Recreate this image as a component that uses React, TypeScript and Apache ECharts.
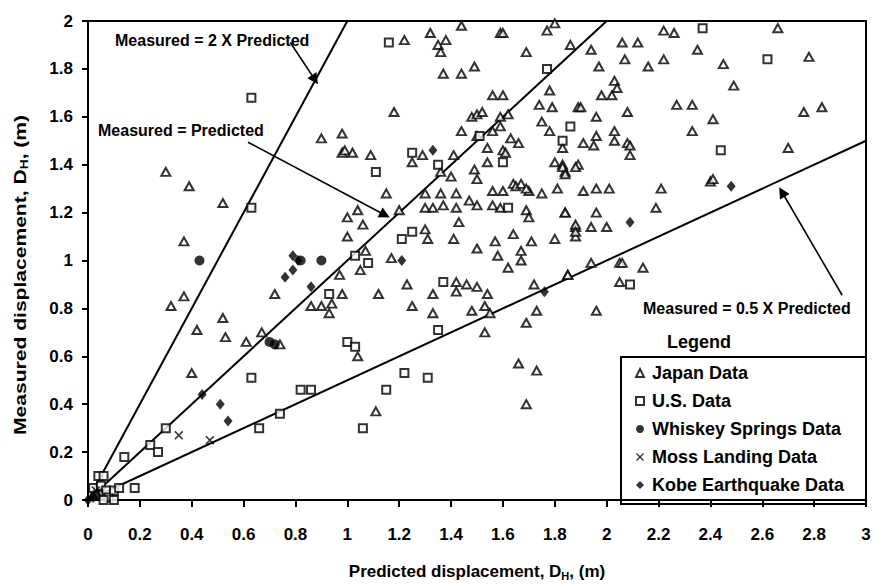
import React, { useEffect, useRef } from "react";
import * as echarts from "echarts";

const FONT = "'Liberation Sans', Arial, Helvetica, sans-serif";

// Predicted vs measured horizontal displacement, [predicted, measured] in metres
const japanData: [number, number][] = [
  [0.30, 1.37], [0.39, 1.31], [0.52, 1.24], [0.37, 1.08], [0.72, 0.86], [0.32, 0.81],
  [0.37, 0.85], [0.42, 0.71], [0.52, 0.76], [0.53, 0.68], [0.61, 0.66], [0.67, 0.70],
  [0.74, 0.65], [0.40, 0.53],
  [0.90, 1.51], [0.98, 1.53], [0.98, 1.45], [0.99, 1.46], [1.02, 1.45], [1.09, 1.44],
  [1.15, 1.28], [1.04, 1.21], [1.00, 1.18], [1.20, 1.21], [1.06, 1.15], [1.00, 1.10],
  [1.05, 0.96], [1.07, 1.04], [0.97, 0.94], [0.98, 0.86], [0.86, 0.81], [0.90, 0.81],
  [0.94, 0.82], [0.93, 0.78], [1.04, 0.60], [1.12, 0.86], [1.17, 1.01], [1.11, 0.37],
  [1.18, 1.62],
  [1.22, 1.92], [1.32, 1.95], [1.35, 1.90], [1.38, 1.92], [1.36, 1.87], [1.44, 1.98],
  [1.59, 1.95], [1.60, 1.95], [1.69, 1.87], [1.77, 1.96], [1.80, 1.99], [1.86, 1.90],
  [1.37, 1.78], [1.44, 1.78], [1.49, 1.81], [1.78, 1.71], [1.56, 1.69], [1.60, 1.69],
  [1.74, 1.65], [1.79, 1.64], [1.89, 1.64], [1.48, 1.60], [1.50, 1.61], [1.52, 1.62],
  [1.59, 1.60], [1.62, 1.61], [1.44, 1.54], [1.50, 1.52], [1.56, 1.54], [1.59, 1.56],
  [1.75, 1.58], [1.78, 1.54], [1.83, 1.47], [1.63, 1.51], [1.66, 1.49], [1.25, 1.41],
  [1.29, 1.44], [1.36, 1.37], [1.41, 1.44], [1.40, 1.35], [1.54, 1.47], [1.54, 1.41],
  [1.60, 1.46], [1.61, 1.45], [1.49, 1.38], [1.50, 1.34], [1.80, 1.41], [1.83, 1.40],
  [1.84, 1.37], [1.89, 1.40], [1.56, 1.29], [1.64, 1.32], [1.65, 1.31], [1.70, 1.29],
  [1.75, 1.28], [1.81, 1.30],
  [1.30, 1.28], [1.36, 1.28], [1.42, 1.28], [1.30, 1.22], [1.33, 1.22], [1.37, 1.23],
  [1.42, 1.22], [1.47, 1.25], [1.50, 1.23], [1.56, 1.23], [1.59, 1.22], [1.60, 1.29],
  [1.67, 1.32], [1.69, 1.30], [1.69, 1.21], [1.70, 1.18], [1.84, 1.20], [1.88, 1.14],
  [1.30, 1.13], [1.31, 1.09], [1.41, 1.09], [1.43, 1.16], [1.50, 1.05], [1.57, 1.08],
  [1.58, 1.02], [1.64, 1.11], [1.67, 1.04], [1.71, 1.08], [1.67, 1.00], [1.62, 0.97],
  [1.80, 1.09], [1.88, 1.10],
  [1.23, 0.90], [1.25, 0.81], [1.33, 0.86], [1.33, 0.78], [1.42, 0.91], [1.46, 0.90],
  [1.42, 0.87], [1.50, 0.89], [1.54, 0.86], [1.48, 0.79], [1.53, 0.81], [1.55, 0.78],
  [1.53, 0.70], [1.69, 0.74], [1.73, 0.79], [1.72, 0.90], [1.85, 0.94], [1.66, 0.57],
  [1.73, 0.54], [1.69, 0.40],
  [2.22, 1.96], [2.26, 1.95], [2.66, 1.97], [1.94, 1.88], [2.06, 1.91], [2.12, 1.91],
  [1.97, 1.81], [2.07, 1.84], [2.16, 1.81], [2.22, 1.84], [2.35, 1.88], [2.45, 1.82],
  [2.78, 1.85], [2.03, 1.75], [2.04, 1.72], [1.98, 1.69], [2.02, 1.69], [2.49, 1.73],
  [1.90, 1.64], [2.08, 1.62], [2.27, 1.65], [2.33, 1.65], [2.41, 1.59], [2.76, 1.62],
  [2.83, 1.64], [1.96, 1.60], [2.33, 1.54], [2.03, 1.54], [2.03, 1.50], [1.96, 1.52],
  [1.91, 1.49], [1.95, 1.48], [2.08, 1.49], [2.09, 1.48], [2.09, 1.44], [2.70, 1.47],
  [1.83, 1.39], [1.88, 1.39], [1.84, 1.36], [1.91, 1.29], [1.96, 1.30], [2.01, 1.30],
  [2.21, 1.30], [2.40, 1.33], [2.41, 1.34], [1.84, 1.20], [1.96, 1.20], [2.19, 1.22],
  [1.88, 1.15], [1.88, 1.12], [1.94, 1.14], [2.00, 1.14], [1.85, 0.94], [1.94, 0.99],
  [2.05, 0.99], [2.06, 0.99], [2.14, 0.97], [2.05, 0.91], [1.96, 0.79],
];

const usData: [number, number][] = [
  [0.63, 1.68], [0.63, 1.22], [0.63, 0.51], [1.16, 1.91], [1.77, 1.80], [2.37, 1.97],
  [2.62, 1.84], [1.86, 1.56], [1.51, 1.52], [1.25, 1.45], [1.60, 1.41], [1.35, 1.40],
  [1.11, 1.37], [1.83, 1.50], [1.62, 1.22], [1.21, 1.09], [1.25, 1.12], [1.03, 1.02],
  [1.08, 0.99], [0.93, 0.86], [1.37, 0.91], [1.35, 0.71], [1.00, 0.66], [1.03, 0.64],
  [2.44, 1.46], [2.09, 0.90], [0.82, 0.46], [0.86, 0.46], [0.74, 0.36], [0.66, 0.30],
  [1.06, 0.30], [1.15, 0.46], [1.22, 0.53], [1.31, 0.51], [0.30, 0.30], [0.24, 0.23],
  [0.27, 0.20], [0.14, 0.18], [0.18, 0.05],
  [0.02, 0.05], [0.04, 0.10], [0.06, 0.10], [0.05, 0.06], [0.07, 0.04], [0.04, 0.02],
  [0.08, 0.01], [0.10, 0.04], [0.10, 0.00], [0.06, 0.00], [0.12, 0.05],
];

const whiskeyData: [number, number][] = [
  [0.43, 1.00], [0.82, 1.00], [0.90, 1.00], [0.70, 0.66], [0.72, 0.65], [0.03, 0.02],
];

const mossData: [number, number][] = [
  [0.35, 0.27], [0.47, 0.25], [0.03, 0.04],
];

const kobeData: [number, number][] = [
  [0.79, 1.02], [0.81, 1.00], [0.79, 0.96], [0.76, 0.93], [0.86, 0.89], [0.44, 0.44],
  [0.51, 0.40], [0.54, 0.33], [1.21, 1.00], [1.33, 1.46], [2.09, 1.16], [2.48, 1.31],
  [1.76, 0.87], [0.00, 0.00], [0.02, 0.01],
];

const seriesNames = [
  "Japan Data",
  "U.S. Data",
  "Whiskey Springs Data",
  "Moss Landing Data",
  "Kobe Earthquake Data",
];

// Reference ratio lines (measured = k × predicted), drawn from the origin to the frame
const lineTwiceEnds: [number, number][] = [[0, 0], [1, 2]];
const lineEqualEnds: [number, number][] = [[0, 0], [2, 2]];
const lineHalfEnds: [number, number][] = [[0, 0], [3, 1.5]];

// Callout arrows, [from, to] in axis units
const arrowTwice: [number, number][] = [[0.78, 1.91], [0.875, 1.755]];
const arrowEqual: [number, number][] = [[0.617, 1.494], [1.145, 1.19]];
const arrowHalf: [number, number][] = [[2.908, 0.855], [2.676, 1.286]];

const xTicks = { min: 0, max: 3, step: 0.2 };
const yTicks = { min: 0, max: 2, step: 0.2 };

const crossPath =
  "path://M0,1.2L1.2,0L5,3.8L8.8,0L10,1.2L6.2,5L10,8.8L8.8,10L5,6.2L1.2,10L0,8.8L3.8,5Z";

export default function App() {
  const ref = useRef<HTMLDivElement>(null);

  useEffect(() => {
    if (!ref.current) return;
    const chart = echarts.init(ref.current, undefined, { renderer: "svg" });

    const refLine = (data: [number, number][]) => ({
      type: "line",
      data,
      symbol: "none",
      silent: true,
      z: 1,
      lineStyle: { color: "#000", width: 2 },
    });

    const arrow = (coords: [number, number][]) => ({
      type: "lines",
      coordinateSystem: "cartesian2d",
      silent: true,
      z: 1,
      symbol: ["none", "triangle"],
      symbolSize: 11,
      lineStyle: { color: "#000", width: 1.6, opacity: 1, curveness: 0 },
      itemStyle: { color: "#000" },
      data: [{ coords }],
    });

    const sub = {
      fontSize: 11,
      fontWeight: "bold",
      fontFamily: FONT,
      padding: [9, 0, 0, 0],
    };

    chart.setOption({
      animation: false,
      backgroundColor: "#fff",
      grid: {
        left: 88,
        right: 10,
        top: 21,
        bottom: 83,
        show: true,
        borderColor: "#000",
        borderWidth: 2,
      },
      xAxis: {
        type: "value",
        min: xTicks.min,
        max: xTicks.max,
        interval: xTicks.step,
        axisLine: { show: true, onZero: false, lineStyle: { color: "#000", width: 2 } },
        axisTick: { show: true, length: 7, lineStyle: { color: "#000", width: 2 } },
        splitLine: { show: false },
        axisLabel: {
          color: "#000",
          fontSize: 17,
          fontWeight: "bold",
          fontFamily: FONT,
          margin: 26,
        },
        name: "Predicted displacement, D{s|H}, (m)",
        nameLocation: "middle",
        nameGap: 61,
        nameTextStyle: {
          color: "#000",
          fontSize: 17,
          fontWeight: "bold",
          fontFamily: FONT,
          rich: { s: sub },
        },
      },
      yAxis: {
        type: "value",
        min: yTicks.min,
        max: yTicks.max,
        interval: yTicks.step,
        axisLine: { show: true, onZero: false, lineStyle: { color: "#000", width: 2 } },
        axisTick: { show: true, length: 6, lineStyle: { color: "#000", width: 2 } },
        splitLine: { show: false },
        axisLabel: {
          color: "#000",
          fontSize: 17,
          fontWeight: "bold",
          fontFamily: FONT,
          margin: 15,
        },
      },
      legend: {
        data: seriesNames,
        orient: "vertical",
        left: 635,
        top: 364,
        padding: 0,
        itemWidth: 8,
        itemHeight: 8,
        itemGap: 10,
        textStyle: {
          color: "#000",
          fontSize: 18,
          fontWeight: "bold",
          fontFamily: FONT,
          padding: [0, 0, 0, 3],
        },
        selectedMode: false,
      },
      graphic: [
        {
          type: "rect",
          z: 0,
          shape: { x: 621, y: 357, width: 245, height: 147 },
          style: { fill: "#fff", stroke: "#000", lineWidth: 2 },
        },
        {
          // vertical axis title, stretched along its reading direction
          type: "text",
          x: 20,
          y: 275,
          rotation: Math.PI / 2,
          scaleX: 1.24,
          style: {
            text: "Measured displacement, D{s|H}, (m)",
            fontSize: 17,
            fontWeight: "bold",
            fontFamily: FONT,
            fill: "#000",
            align: "center",
            verticalAlign: "middle",
            rich: { s: sub },
          },
        },
        {
          type: "text",
          x: 115,
          y: 40,
          style: {
            text: "Measured = 2 X Predicted",
            font: `bold 16px ${FONT}`,
            fill: "#000",
            verticalAlign: "middle",
          },
        },
        {
          type: "text",
          x: 98,
          y: 130,
          style: {
            text: "Measured = Predicted",
            font: `bold 16px ${FONT}`,
            fill: "#000",
            verticalAlign: "middle",
          },
        },
        {
          type: "text",
          x: 643,
          y: 308,
          style: {
            text: "Measured = 0.5 X Predicted",
            font: `bold 16px ${FONT}`,
            fill: "#000",
            verticalAlign: "middle",
          },
        },
        {
          type: "text",
          x: 667,
          y: 342,
          style: {
            text: "Legend",
            font: `bold 18px ${FONT}`,
            fill: "#000",
            verticalAlign: "middle",
          },
        },
      ],
      series: [
        refLine(lineTwiceEnds),
        refLine(lineEqualEnds),
        refLine(lineHalfEnds),
        arrow(arrowTwice),
        arrow(arrowEqual),
        arrow(arrowHalf),
        {
          name: seriesNames[0],
          type: "scatter",
          data: japanData,
          symbol: "triangle",
          symbolSize: [9, 8],
          itemStyle: { color: "#fff", borderColor: "#000", borderWidth: 2 },
          z: 3,
        },
        {
          name: seriesNames[1],
          type: "scatter",
          data: usData,
          symbol: "rect",
          symbolSize: 8,
          itemStyle: { color: "#fff", borderColor: "#000", borderWidth: 2 },
          z: 3,
        },
        {
          name: seriesNames[2],
          type: "scatter",
          data: whiskeyData,
          symbol: "circle",
          symbolSize: 10,
          itemStyle: { color: "#000" },
          z: 4,
        },
        {
          name: seriesNames[3],
          type: "scatter",
          data: mossData,
          symbol: crossPath,
          symbolSize: 9,
          itemStyle: { color: "#000" },
          z: 4,
        },
        {
          name: seriesNames[4],
          type: "scatter",
          data: kobeData,
          symbol: "diamond",
          symbolSize: [9, 11],
          itemStyle: { color: "#000" },
          z: 4,
        },
      ],
    });

    return () => chart.dispose();
  }, []);

  return (
    <div
      ref={ref}
      style={{ position: "fixed", left: 0, top: 0, width: 876, height: 586 }}
    />
  );
}
